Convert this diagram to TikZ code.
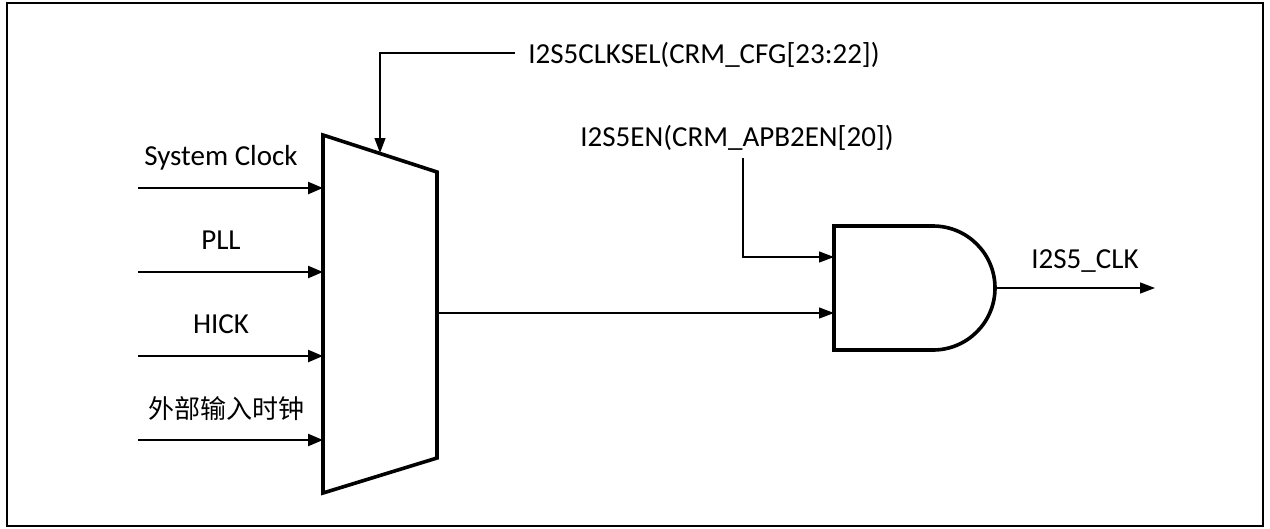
\documentclass[tikz,border=0pt]{standalone}
\usepackage{fontspec}
\setmainfont{Carlito}
\newfontfamily\cjk{Noto Sans CJK SC}
\usetikzlibrary{arrows.meta}
\begin{document}
\begin{tikzpicture}[x=1pt,y=-1pt,
  lbl/.style={inner sep=0pt,anchor=base,font=\fontsize{29}{34}\selectfont},
  inarrow/.style={line width=2.4pt,-{Triangle[length=15pt,width=12pt]}},
  thinarrow/.style={line width=1.3pt,-{Triangle[length=15pt,width=11pt]}},
  gate/.style={line width=3.6pt,line join=miter}]
\useasboundingbox (0,0) rectangle (1270,528);
\draw[line width=2pt] (7,3) rectangle (1263,526);
% mux
\coordinate (mtl) at (323,135);
\coordinate (mtr) at (437,172);
\coordinate (mbr) at (437,458);
\coordinate (mbl) at (323,493);
\draw[gate,fill=white] (mtl) -- (mtr) -- (mbr) -- (mbl) -- cycle;
\coordinate (msel) at (380,153);
\coordinate (mout) at (437,313);
% inputs
\foreach \y/\t/\n in {188/System Clock/a,272/PLL/b,356/HICK/c}{
  \node[lbl] (l\n) at (221,\y-23) {\t};
  \coordinate (s\n) at (138,\y);
  \coordinate (e\n) at (323,\y);
  \draw[inarrow] (s\n) -- (e\n);
}
\node[lbl,font=\cjk\fontsize{26}{30}\selectfont] (ld) at (226,418) {外部输入时钟};
\coordinate (sd) at (138,440);
\coordinate (ed) at (323,440);
\draw[inarrow] (sd) -- (ed);
% select
\node[lbl] (sel) at (704,63) {I2S5CLKSEL(CRM\_CFG[23:22])};
\coordinate (sels) at (515,53);
\coordinate (selc) at (380,53);
\draw[thinarrow] (sels) -- (selc) -- (msel);
% AND gate
\coordinate (gtl) at (834,226);
\coordinate (gbl) at (834,350);
\draw[gate] (933,226) -- (gtl) -- (gbl) -- (933,350)
  arc[start angle=90, end angle=-90, radius=62] -- cycle;
\coordinate (gin1) at (834,257);
\coordinate (gin2) at (834,313);
\coordinate (gout) at (995,288);
\draw[thinarrow] (mout) -- (gin2);
\node[lbl] (en) at (737,146) {I2S5EN(CRM\_APB2EN[20])};
\coordinate (ent) at (743,158);
\coordinate (enc) at (743,257);
\draw[thinarrow] (ent) -- (enc) -- (gin1);
\node[lbl] (clk) at (1085,268) {I2S5\_CLK};
\coordinate (oend) at (1155,288);
\draw[thinarrow] (gout) -- (oend);
\end{tikzpicture}
\end{document}
